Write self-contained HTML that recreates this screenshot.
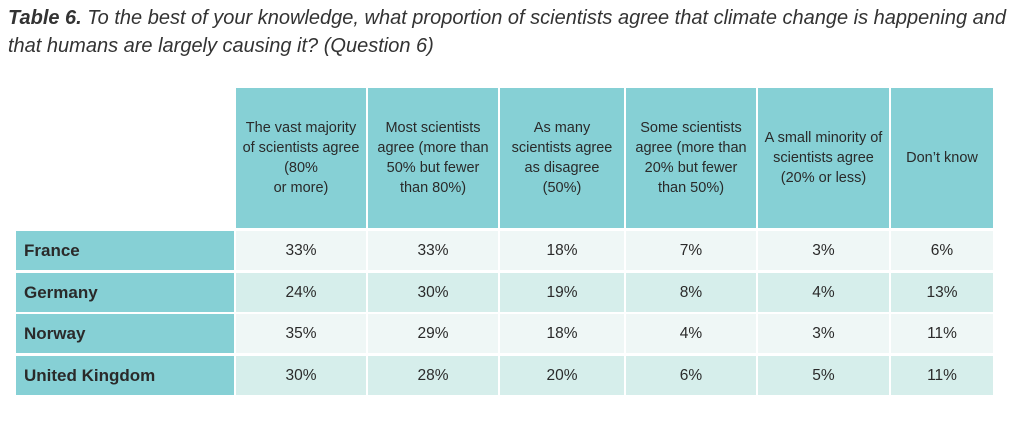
<!DOCTYPE html>
<html><head><meta charset="utf-8"><style>
body{margin:0;width:1024px;height:421px;background:#fff;font-family:"Liberation Sans",sans-serif;color:#2a2a2a;position:relative;overflow:hidden}
.t{position:absolute;left:8px;top:4px;font-style:italic;font-size:20px;line-height:28px;color:#333;width:1010px}
.c{position:absolute;display:flex;align-items:center;justify-content:center;text-align:center;box-sizing:border-box}
.h{background:#86d0d5;font-size:14.5px;line-height:20px;padding:0 6px}
.r{background:#86d0d5;justify-content:flex-start;padding-left:8px;font-weight:bold;font-size:17px}
.d{font-size:15.5px}
.o{background:#eff7f6}.e{background:#d6eeeb}
</style></head><body>
<div class="t"><b>Table 6.</b> To the best of your knowledge, what proportion of scientists agree that climate change is happening and that humans are largely causing it? (Question 6)</div>
<div id="tbl"></div>
<script>
const headers=["The vast majority of scientists agree (80%<br>or more)","Most scientists agree (more than 50% but fewer than 80%)","As many scientists agree as disagree (50%)","Some scientists agree (more than 20% but fewer than 50%)","A small minority of scientists agree (20% or less)","Don’t know"];
const countries=["France","Germany","Norway","United Kingdom"];
const france=[33,33,18,7,3,6];
const germany=[24,30,19,8,4,13];
const norway=[35,29,18,4,3,11];
const uk=[30,28,20,6,5,11];
const rows=[france,germany,norway,uk];
const colX=[236,368,500,626,758,891,995];
const rowY=[231,273,314,356];
const rowH=39;
const tbl=document.getElementById('tbl');
function mk(cls,x,y,w,h,html){const d=document.createElement('div');d.className='c '+cls;d.style.left=x+'px';d.style.top=y+'px';d.style.width=w+'px';d.style.height=h+'px';d.innerHTML=html;tbl.appendChild(d);return d;}
headers.forEach((h,i)=>{const d=mk('h',colX[i],88,colX[i+1]-colX[i]-2,140,h);

});
countries.forEach((c,r)=>{const d=mk('r',16,rowY[r],218,rowH,c);


rows[r].forEach((v,i)=>{const e=mk('d '+(r%2?'e':'o'),colX[i],rowY[r],colX[i+1]-colX[i]-2,rowH,v+'%');

});});
</script>
</body></html>
